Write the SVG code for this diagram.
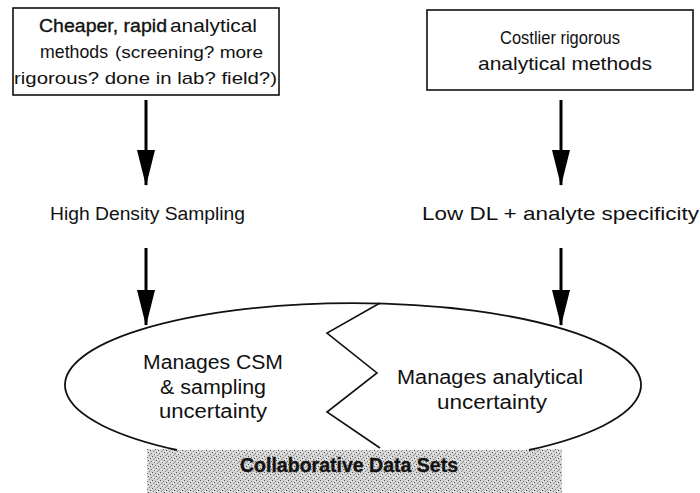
<svg xmlns="http://www.w3.org/2000/svg" width="700" height="493" viewBox="0 0 700 493">
<style>
.t{font-family:"Liberation Sans",Arial,sans-serif;fill:#111}
.dk{stroke:#111;stroke-width:0.35}
.box{fill:#fff;stroke:#111;stroke-width:1.6}
.conn{stroke:#000;stroke-width:3;fill:none}
.ell{fill:#fff;stroke:#111;stroke-width:1.8}
</style>
<defs>
<marker id="ah" viewBox="0 0 36 18" refX="35" refY="9" markerWidth="36" markerHeight="18" markerUnits="userSpaceOnUse" orient="auto">
<path d="M0,0 L36,9 L0,18 Z" fill="#000"/>
</marker>
<pattern id="stip" width="8" height="8" patternUnits="userSpaceOnUse">
<rect width="8" height="8" fill="#d4d4d4"/>
<rect x="0" y="0" width="1" height="1" fill="#555"/>
<rect x="3" y="1" width="1" height="1" fill="#777"/>
<rect x="6" y="2" width="1" height="1" fill="#444"/>
<rect x="1" y="3" width="1" height="1" fill="#888"/>
<rect x="4" y="4" width="1" height="1" fill="#555"/>
<rect x="7" y="5" width="1" height="1" fill="#777"/>
<rect x="2" y="6" width="1" height="1" fill="#666"/>
<rect x="5" y="7" width="1" height="1" fill="#888"/>
<rect x="6" y="6" width="1" height="1" fill="#aaa"/>
<rect x="2" y="2" width="1" height="1" fill="#aaa"/>
<rect x="5" y="3" width="1" height="1" fill="#fff"/>
<rect x="1" y="5" width="1" height="1" fill="#fff"/>
<rect x="7" y="1" width="1" height="1" fill="#fff"/>
<rect x="3" y="6" width="1" height="1" fill="#fff"/>
</pattern>
</defs>
<rect width="700" height="493" fill="#fff"/>

<g id="node-cheaper">
<rect class="box" x="13" y="8" width="266" height="87"/>
<text class="t dk" x="39" y="32" font-size="19" textLength="128" lengthAdjust="spacingAndGlyphs">Cheaper, rapid</text>
<text class="t" x="170" y="32" font-size="18" textLength="87" lengthAdjust="spacingAndGlyphs">analytical</text>
<text class="t" x="40" y="58" font-size="19" textLength="68" lengthAdjust="spacingAndGlyphs">methods</text>
<text class="t" x="115" y="58" font-size="16" textLength="148" lengthAdjust="spacingAndGlyphs">(screening? more</text>
<text class="t" x="14" y="84" font-size="17" textLength="263" lengthAdjust="spacingAndGlyphs">rigorous? done in lab? field?)</text>
</g>

<g id="node-costlier">
<rect class="box" x="427" y="10" width="266" height="80"/>
<text class="t" x="500" y="44" font-size="19" textLength="120" lengthAdjust="spacingAndGlyphs">Costlier rigorous</text>
<text class="t" x="478" y="70" font-size="19" textLength="174" lengthAdjust="spacingAndGlyphs">analytical methods</text>
</g>

<g id="node-hds">
<text class="t" x="50" y="220" font-size="18" textLength="195" lengthAdjust="spacingAndGlyphs">High Density Sampling</text>
</g>

<g id="node-lowdl">
<text class="t" x="422" y="220" font-size="19" textLength="277" lengthAdjust="spacingAndGlyphs">Low DL + analyte specificity</text>
</g>

<g id="node-band">
<rect x="147" y="449" width="415" height="44" fill="url(#stip)"/>
<text class="t" x="240" y="472" font-size="20" font-weight="bold" textLength="218" lengthAdjust="spacingAndGlyphs" style="stroke:#222;stroke-width:0.4">Collaborative Data Sets</text>
</g>

<g id="node-ellipse">
<path class="ell" d="M177,450 A288,82 0 1 1 529,450"/>
<polyline points="380,303 327,333 377,373 327,412 380,448" fill="none" stroke="#111" stroke-width="1.6"/>
<text class="t" x="213" y="369" font-size="20" text-anchor="middle" textLength="140" lengthAdjust="spacingAndGlyphs">Manages CSM</text>
<text class="t" x="213" y="394" font-size="20" text-anchor="middle" textLength="106" lengthAdjust="spacingAndGlyphs">&amp; sampling</text>
<text class="t" x="213" y="418" font-size="20" text-anchor="middle" textLength="108" lengthAdjust="spacingAndGlyphs">uncertainty</text>
<text class="t" x="490" y="384" font-size="20" text-anchor="middle" textLength="186" lengthAdjust="spacingAndGlyphs">Manages analytical</text>
<text class="t" x="492" y="409" font-size="20" text-anchor="middle" textLength="110" lengthAdjust="spacingAndGlyphs">uncertainty</text>
</g>

<g id="connectors">
<line class="conn" x1="146" y1="100" x2="146" y2="185" marker-end="url(#ah)"/>
<line class="conn" x1="561" y1="100" x2="561" y2="185" marker-end="url(#ah)"/>
<line class="conn" x1="146" y1="248" x2="146" y2="325" marker-end="url(#ah)"/>
<line class="conn" x1="561" y1="248" x2="561" y2="325" marker-end="url(#ah)"/>
</g>
</svg>
